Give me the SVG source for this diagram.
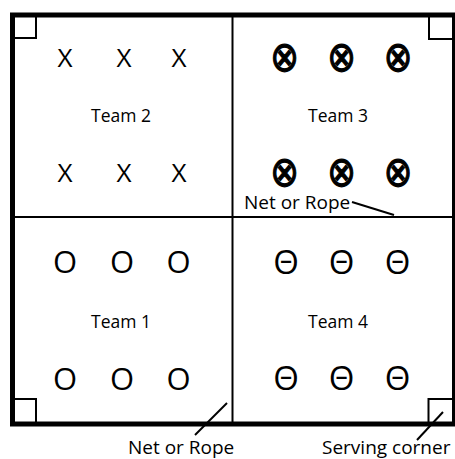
<svg xmlns="http://www.w3.org/2000/svg" width="455" height="459" viewBox="0 0 455 459">
<style>
.t{font-family:"Open Sans","Liberation Sans",sans-serif;fill:#000}
.lbl{font-size:19px}
.team{font-size:17.5px;text-anchor:middle}
.x{font-size:26px;text-anchor:middle}
.o{font-size:31px;text-anchor:middle}
.th{font-size:33px;text-anchor:middle}
.ox{font-family:"DejaVu Sans",sans-serif;font-size:38px;text-anchor:middle;fill:#000;stroke:#000;stroke-width:1.1}
.ln{fill:none;stroke:#000;stroke-width:2}
</style>
<rect width="455" height="459" fill="#fff"/>
<g id="court">
<rect x="12.5" y="15" width="442" height="409" fill="none" stroke="#000" stroke-width="5"/>
</g>
<g id="nets">
<line class="ln" x1="232.5" y1="15" x2="232.5" y2="424"/>
<line class="ln" x1="12.5" y1="217" x2="454.5" y2="217"/>
</g>
<g id="corners">
<path class="ln" d="M15 38H36V17"/>
<path class="ln" d="M429 17V39H452"/>
<path class="ln" d="M15 399H36V424"/>
<path class="ln" d="M452 399H428.5V424"/>
</g>
<g id="team2">
<text class="t x" x="65" y="66.5">X</text>
<text class="t x" x="124" y="66.5">X</text>
<text class="t x" x="179" y="66.5">X</text>
<text class="t team" x="121" y="121.5">Team 2</text>
<text class="t x" x="65" y="182">X</text>
<text class="t x" x="124" y="182">X</text>
<text class="t x" x="179" y="182">X</text>
</g>
<g id="team3">
<text class="ox" transform="translate(284.5 58.5) scale(0.9 1.1)" x="0" y="11.5">⊗</text>
<text class="ox" transform="translate(341.5 58.5) scale(0.9 1.1)" x="0" y="11.5">⊗</text>
<text class="ox" transform="translate(398 58.5) scale(0.9 1.1)" x="0" y="11.5">⊗</text>
<text class="t team" x="338" y="121.5">Team 3</text>
<text class="ox" transform="translate(284.5 173.5) scale(0.9 1.1)" x="0" y="11.5">⊗</text>
<text class="ox" transform="translate(341.5 173.5) scale(0.9 1.1)" x="0" y="11.5">⊗</text>
<text class="ox" transform="translate(398 173.5) scale(0.9 1.1)" x="0" y="11.5">⊗</text>
</g>
<g id="team1">
<text class="t o" x="65" y="273">O</text>
<text class="t o" x="122" y="273">O</text>
<text class="t o" x="178.5" y="273">O</text>
<text class="t team" x="121" y="328">Team 1</text>
<text class="t o" x="65" y="389.5">O</text>
<text class="t o" x="122" y="389.5">O</text>
<text class="t o" x="178.5" y="389.5">O</text>
</g>
<g id="team4">
<text class="t th" x="286" y="273.5">Θ</text>
<text class="t th" x="341.5" y="273.5">Θ</text>
<text class="t th" x="397.5" y="273.5">Θ</text>
<text class="t team" x="338" y="328">Team 4</text>
<text class="t th" x="286" y="390">Θ</text>
<text class="t th" x="341.5" y="390">Θ</text>
<text class="t th" x="397.5" y="390">Θ</text>
</g>
<g id="labels">
<text class="t lbl" x="244" y="208.5">Net or Rope</text>
<text class="t lbl" x="128" y="453.5">Net or Rope</text>
<text class="t lbl" x="322" y="453.5">Serving corner</text>
</g>
<g id="connectors">
<line class="ln" x1="352" y1="202" x2="394" y2="215"/>
<line class="ln" x1="227" y1="403" x2="195" y2="435"/>
<line class="ln" x1="443" y1="412" x2="417" y2="440"/>
</g>
</svg>
